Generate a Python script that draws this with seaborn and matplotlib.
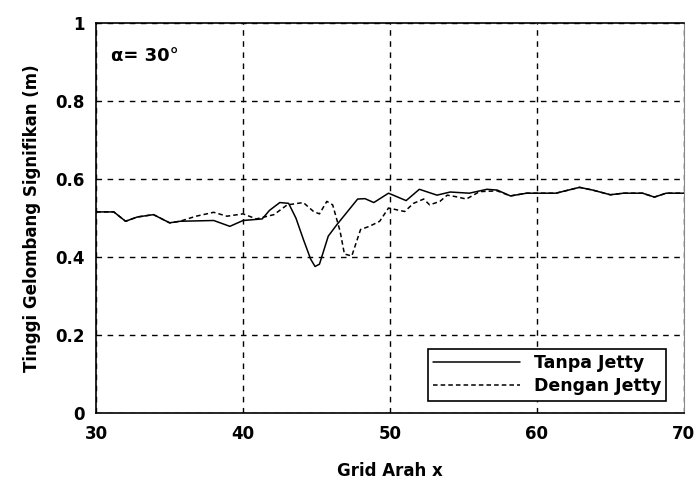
import pandas as pd
import seaborn as sns
import matplotlib.pyplot as plt

# Tanpa Jetty (solid)
x_tanpa = [30.0, 31.2, 32.0, 32.8, 33.9, 35.0, 35.7, 38.0, 39.1, 40.0, 41.3, 41.8,
           42.5, 43.1, 43.6, 44.1, 44.6, 44.9, 45.2, 45.8, 46.4, 47.8, 48.3, 48.9, 49.9, 51.1,
           52.0, 53.2, 54.1, 55.4, 56.6, 57.3, 58.2, 59.3, 60.2, 61.3, 62.9, 63.8,
           65.0, 65.9, 67.2, 68.0, 68.8, 70.0]
y_tanpa = [0.516, 0.516, 0.492, 0.503, 0.509, 0.488, 0.492, 0.494, 0.479, 0.494, 0.498, 0.520,
           0.540, 0.538, 0.500, 0.446, 0.395, 0.376, 0.382, 0.454, 0.484, 0.549, 0.550, 0.540, 0.564, 0.545,
           0.574, 0.559, 0.567, 0.564, 0.574, 0.572, 0.557, 0.564, 0.564, 0.564, 0.579, 0.572,
           0.560, 0.564, 0.564, 0.554, 0.564, 0.564]

# Dengan Jetty (dashed)
x_dengan = [30.0, 31.2, 32.0, 32.8, 33.9, 35.0, 35.7, 36.8, 38.0, 38.9, 40.0, 40.9,
            42.1, 43.0, 44.1, 44.8, 45.2, 45.7, 46.1, 46.6, 46.9, 47.4, 48.0, 48.6,
            49.3, 49.9, 51.0, 51.6, 52.3, 52.7, 53.4, 53.9, 54.5, 55.2, 56.1, 57.3,
            58.2, 59.3, 60.2, 61.3, 62.9, 63.8, 65.0, 65.9, 67.2, 68.0, 68.8, 70.0]
y_dengan = [0.516, 0.516, 0.492, 0.503, 0.509, 0.488, 0.492, 0.505, 0.515, 0.505, 0.511, 0.498,
            0.509, 0.534, 0.540, 0.517, 0.511, 0.543, 0.534, 0.467, 0.408, 0.403, 0.471, 0.479,
            0.492, 0.526, 0.517, 0.538, 0.549, 0.534, 0.543, 0.559, 0.555, 0.549, 0.568, 0.570,
            0.557, 0.564, 0.564, 0.564, 0.579, 0.572, 0.560, 0.564, 0.564, 0.554, 0.564, 0.564]

df = pd.concat([
    pd.DataFrame({"x": x_tanpa, "y": y_tanpa, "seri": "Tanpa Jetty"}),
    pd.DataFrame({"x": x_dengan, "y": y_dengan, "seri": "Dengan Jetty"}),
])

sns.set_style("white")
plt.rcParams['font.family'] = ['DejaVu Sans']
plt.rcParams['font.weight'] = 'bold'
plt.rcParams['text.color'] = 'black'
plt.rcParams['axes.labelcolor'] = 'black'

fig = plt.figure(figsize=(6.97, 4.93), dpi=100)
ax = fig.add_axes([0.138, 0.162, 0.843, 0.791])

sns.lineplot(data=df, x="x", y="y", hue="seri", style="seri",
             palette={"Tanpa Jetty": "black", "Dengan Jetty": "black"},
             dashes={"Tanpa Jetty": "", "Dengan Jetty": (3, 2)},
             linewidth=1.1, sort=False, estimator=None, ax=ax)

ax.set_xlim(30, 70)
ax.set_ylim(0, 1)
ax.set_xticks([30, 40, 50, 60, 70])
ax.set_yticks([0, 0.2, 0.4, 0.6, 0.8, 1])
ax.set_yticklabels(["0", "0.2", "0.4", "0.6", "0.8", "1"])
ax.grid(True, color="black", linestyle=(0, (4, 4)), linewidth=1)
for s in ax.spines.values():
    s.set_color("black")
    s.set_linewidth(1.2)
ax.spines['right'].set_color("#888888")
ax.spines['right'].set_linewidth(0.8)
ax.tick_params(axis="both", direction="out", length=5, width=1, colors="black",
               labelsize=12)
for lbl in ax.get_xticklabels() + ax.get_yticklabels():
    lbl.set_fontweight("bold")

ax.set_xlabel("Grid Arah x", fontsize=12, fontweight="bold", labelpad=14)
ax.set_ylabel("Tinggi Gelombang Signifikan (m)", fontsize=12, fontweight="bold", labelpad=10)
ax.text(0.025, 0.94, "α= 30°", transform=ax.transAxes, fontsize=13,
        fontweight="bold", va="top")

leg = ax.legend(loc="lower right", bbox_to_anchor=(0.985, 0.01), fontsize=12.5,
                frameon=True, fancybox=False, edgecolor="black", framealpha=1,
                handlelength=5, borderpad=0.3, labelspacing=0.3)
leg.get_frame().set_linewidth(1.2)
for t in leg.get_texts():
    t.set_fontweight("bold")
    t.set_color("black")

fig.savefig("out.png", dpi=100)
